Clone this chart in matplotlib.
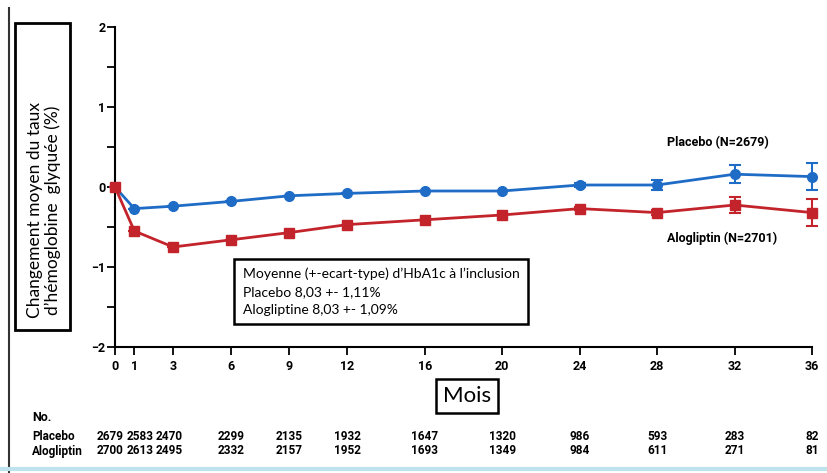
import matplotlib
matplotlib.use("Agg")
import matplotlib.pyplot as plt
from matplotlib.patches import Rectangle
from matplotlib.lines import Line2D

months = [0, 1, 3, 6, 9, 12, 16, 20, 24, 28, 32, 36]
placebo = [0.0, -0.27, -0.24, -0.18, -0.11, -0.08, -0.05, -0.05, 0.025, 0.025, 0.16, 0.13]
placebo_err = [0, 0, 0, 0, 0, 0, 0, 0, 0.02, 0.065, 0.11, 0.17]
alo = [0.0, -0.55, -0.75, -0.66, -0.57, -0.47, -0.41, -0.35, -0.27, -0.32, -0.225, -0.32]
alo_err = [0, 0, 0, 0, 0, 0, 0, 0, 0.02, 0.03, 0.10, 0.17]

n_placebo = [2679, 2583, 2470, 2299, 2135, 1932, 1647, 1320, 986, 593, 283, 82]
n_alo = [2700, 2613, 2495, 2332, 2157, 1952, 1693, 1349, 984, 611, 271, 81]

narrow = ["Roboto", "DejaVu Sans"]
box_font = ["Lato", "DejaVu Sans"]
blue = "#1f6cc6"
red = "#c3242b"

fig = plt.figure(figsize=(8.28, 4.73), dpi=100)
ax = fig.add_axes([115 / 828, 1 - 347 / 473, 697 / 828, 320 / 473])

ax.errorbar(months, placebo, yerr=placebo_err, color=blue, lw=2, marker="o",
            ms=7, capsize=4, elinewidth=1.5, capthick=1.5, clip_on=False, zorder=3)
ax.errorbar(months, alo, yerr=alo_err, color=red, lw=2, marker="s",
            ms=7, capsize=4, elinewidth=1.5, capthick=1.5, clip_on=False, zorder=3)

ax.set_xlim(0, 36)
ax.set_ylim(-2, 2)
ax.set_xticks(months)
ax.set_yticks([-2, -1, 0, 1, 2])
ax.set_yticks([-1.5, -0.5, 0.5, 1.5], minor=True)
ax.spines["top"].set_visible(False)
ax.spines["right"].set_visible(False)
ax.spines["left"].set_linewidth(1.5)
ax.spines["bottom"].set_linewidth(1.5)
ax.tick_params(axis="both", which="both", width=1.3, length=6, labelsize=9)
ax.tick_params(axis="y", pad=1)
for lab in ax.get_xticklabels() + ax.get_yticklabels():
    lab.set_family(narrow)
    lab.set_fontweight("bold")

ax.text(28.5, 0.55, "Placebo (N=2679)", fontsize=9, fontweight="bold",
        family=narrow, va="center")
ax.text(28.5, -0.64, "Alogliptin (N=2701)", fontsize=9, fontweight="bold",
        family=narrow, va="center")

# baseline annotation box
ax.text(6.6, -1.31,
        "Moyenne (+-ecart-type) d\u2019HbA1c \u00e0 l\u2019inclusion\n"
        "Placebo 8,03 +- 1,11%\nAlogliptine 8,03 +- 1,09%",
        fontsize=10, family=box_font, va="center", ha="left", linespacing=1.6,
        bbox=dict(boxstyle="square,pad=0.6", fc="white", ec="black", lw=1.8))

# y label box
fig.patches.append(Rectangle((15 / 828, 1 - 330 / 473), 55 / 828, 307 / 473,
                             transform=fig.transFigure, fill=False, ec="black", lw=2))
fig.text(44 / 828, 1 - 210 / 473, "Changement moyen du taux\nd\u2019h\u00e9moglobine  glyqu\u00e9e (%)",
         rotation=90, ha="center", va="center", fontsize=12.5, family=box_font,
         linespacing=1.15)

fig.text(467 / 828, 1 - 396 / 473, "Mois", ha="center", va="center", fontsize=16,
         family=box_font,
         bbox=dict(boxstyle="square,pad=0.3", fc="white", ec="black", lw=1.8))

# left frame line and bottom stripe
fig.lines.append(Line2D([9 / 828, 9 / 828], [0, 1 - 8 / 473], transform=fig.transFigure,
                        color="#333333", lw=1.5))
fig.lines.append(Line2D([0, 1], [1 - 469 / 473, 1 - 469 / 473], transform=fig.transFigure,
                        color="#bfe3ec", lw=3))

# numbers at risk
table_x = [-0.25, 1.3, 2.8] + months[3:]
trans = ax.get_xaxis_transform()
fig.text(32 / 828, 1 - 417 / 473, "No.", fontsize=9, fontweight="bold", family=narrow,
         va="center")
fig.text(32 / 828, 1 - 436 / 473, "Placebo", fontsize=8.5, fontweight="bold", family=narrow,
         va="center")
fig.text(32 / 828, 1 - 451 / 473, "Alogliptin", fontsize=8.5, fontweight="bold", family=narrow,
         va="center")
row_p = (436 - 27) / 320
row_a = (451 - 27) / 320
for x, a, b in zip(table_x, n_placebo, n_alo):
    ax.text(x, 1 - row_p, str(a), transform=trans, ha="center", va="center",
            fontsize=8.5, fontweight="bold", family=narrow, clip_on=False)
    ax.text(x, 1 - row_a, str(b), transform=trans, ha="center", va="center",
            fontsize=8.5, fontweight="bold", family=narrow, clip_on=False)

fig.savefig("out.png", dpi=100)
